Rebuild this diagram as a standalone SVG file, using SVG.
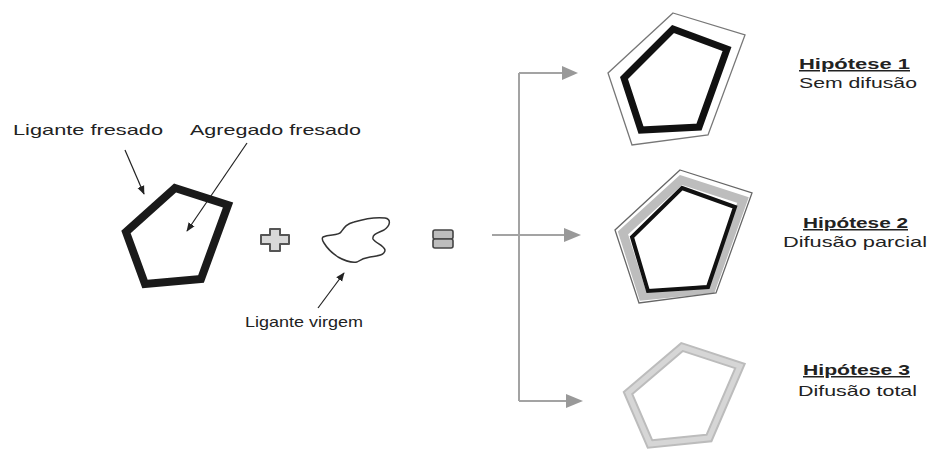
<svg xmlns="http://www.w3.org/2000/svg" width="930" height="453" viewBox="0 0 930 453">
<defs>
<style>
text{font-family:"Liberation Sans",Arial,sans-serif;font-size:15px;fill:#222;}
.h{font-weight:bold;text-decoration:underline;}
.conn{stroke:#a3a3a3;stroke-width:2;fill:none;}
.lbl{stroke:#222;stroke-width:1.2;fill:none;}
</style>
<marker id="ab" viewBox="0 0 10 10" refX="9" refY="5" markerWidth="9" markerHeight="9" markerUnits="userSpaceOnUse" orient="auto">
<path d="M0,1 L10,5 L0,9 Z" fill="#222"/>
</marker>
</defs>
<rect width="930" height="453" fill="#fff"/>

<g id="conectores">
<path class="conn" d="M492,235 H566"/>
<path class="conn" d="M519,73 V401"/>
<path class="conn" d="M519,73 H566"/>
<path class="conn" d="M519,401 H568"/>
<path d="M562,66 L578,73 L562,80 Z" fill="#999"/>
<path d="M564,228 L581,235 L564,242 Z" fill="#999"/>
<path d="M566,394 L583,401 L566,408 Z" fill="#999"/>
<path class="lbl" d="M125,150 L144,194" marker-end="url(#ab)"/>
<path class="lbl" d="M247,143 L187,231" marker-end="url(#ab)"/>
<path class="lbl" d="M318,308 L344,273" marker-end="url(#ab)"/>
</g>

<g id="ligante-fresado">
<text x="13" y="135" textLength="150" lengthAdjust="spacingAndGlyphs">Ligante fresado</text>
</g>
<g id="agregado-fresado">
<text x="190" y="135" textLength="171" lengthAdjust="spacingAndGlyphs">Agregado fresado</text>
</g>
<g id="pentagono-fresado">
<polygon points="175,188 228,205 201,279 145,284 126,232" fill="none" stroke="#1a1a1a" stroke-width="8" stroke-linejoin="miter"/>
</g>

<g id="mais">
<path d="M270,229 H280 V235 H289 V244 H280 V251 H270 V244 H261 V235 H270 Z" fill="#d8d8d8" stroke="#555" stroke-width="2" stroke-linejoin="round"/>
</g>

<g id="ligante-virgem">
<path d="M323,237 C330,234 338,236 341,232 C344,228 346,224 354,222 C364,219 376,217 385,218 C391,219 391,225 384,230 C378,233 372,234 373,239 C375,243 384,245 385,250 C385,255 378,256 370,257 C363,258 360,260 357,262 C351,263 345,261 338,257 C332,253 327,248 324,243 C322,240 322,238 323,237 Z" fill="#fff" stroke="#333" stroke-width="1.5"/>
<text x="245" y="327" textLength="118" lengthAdjust="spacingAndGlyphs">Ligante virgem</text>
</g>

<g id="igual">
<rect x="433" y="230" width="20" height="9" rx="2" fill="#bdbdbd" stroke="#444" stroke-width="1.6"/>
<rect x="433" y="239" width="20" height="9" rx="2" fill="#bdbdbd" stroke="#444" stroke-width="1.6"/>
</g>

<g id="hipotese-1">
<polygon points="673,13 745,35 708,135 632,145 608,73" fill="none" stroke="#777" stroke-width="1.3"/>
<polygon points="673,29 727,49 699,127 641,130 624,78" fill="none" stroke="#111" stroke-width="7"/>
<text class="h" x="799" y="69" textLength="111" lengthAdjust="spacingAndGlyphs">Hipótese 1</text>
<text x="799" y="88" textLength="118" lengthAdjust="spacingAndGlyphs">Sem difusão</text>
</g>

<g id="hipotese-2">
<polygon points="681,180 743,200 711,289 643,296 623,233" fill="none" stroke="#bdbdbd" stroke-width="9"/>
<polygon points="680,170 752,193 716,293 639,303 615,230" fill="none" stroke="#666" stroke-width="1.3"/>
<polygon points="682,188 735,207 708,287 648,291 632,237" fill="none" stroke="#111" stroke-width="4"/>
<text class="h" x="803" y="228" textLength="105" lengthAdjust="spacingAndGlyphs">Hipótese 2</text>
<text x="783" y="247" textLength="144" lengthAdjust="spacingAndGlyphs">Difusão parcial</text>
</g>

<g id="hipotese-3">
<polygon points="682,347 740,366 709,438 650,444 628,393" fill="none" stroke="#bcbcbc" stroke-width="9"/>
<polygon points="682,347 740,366 709,438 650,444 628,393" fill="none" stroke="#d6d6d6" stroke-width="5"/>
<text class="h" x="803" y="375" textLength="107" lengthAdjust="spacingAndGlyphs">Hipótese 3</text>
<text x="798" y="396" textLength="119" lengthAdjust="spacingAndGlyphs">Difusão total</text>
</g>
</svg>
